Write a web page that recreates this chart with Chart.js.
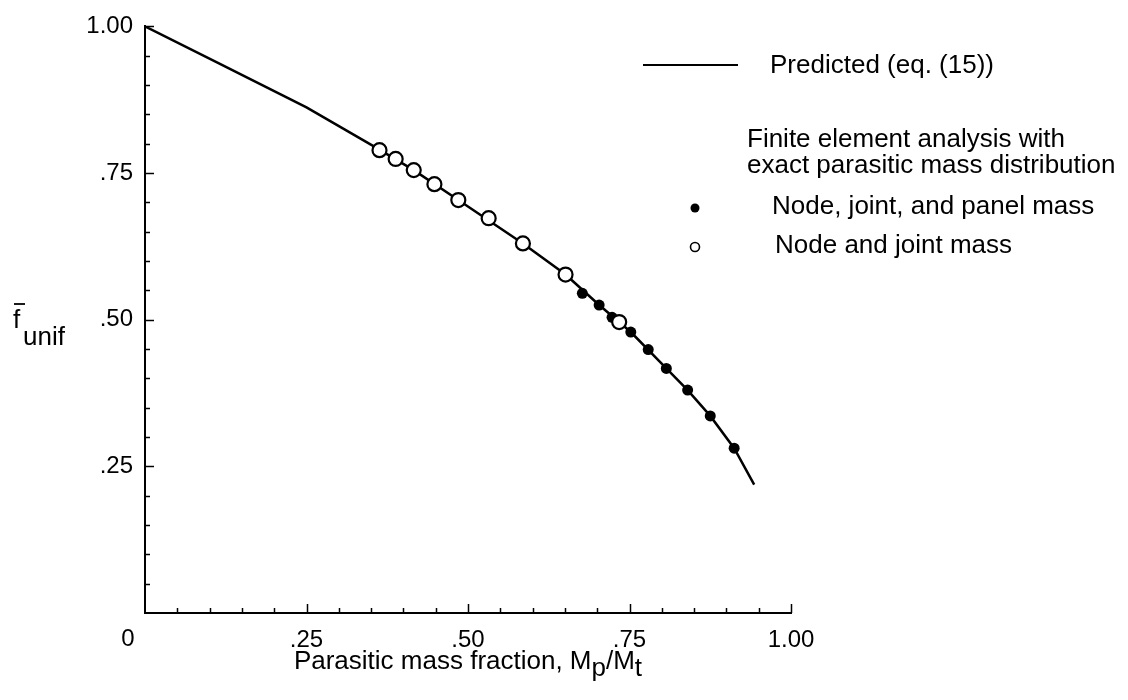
<!DOCTYPE html>
<html lang="en">
<head>
  <meta charset="UTF-8" />
  <title>Parasitic mass fraction</title>
  <script src="https://cdn.jsdelivr.net/npm/chart.js"></script>
  <style>
    body { margin: 0; background: #fff; }
    #wrap { width: 1128px; height: 700px; position: relative; }
  </style>
</head>
<body>
  <div id="wrap"><canvas id="chart"></canvas></div>

  <script>
    // predicted curve (eq. 15)
    const predictedX = [0, 0.116, 0.25, 0.355, 0.416, 0.485, 0.585, 0.651, 0.703, 0.752, 0.807, 0.840, 0.875, 0.912, 0.943];
    const predictedY = [1.0, 0.936, 0.862, 0.795, 0.755, 0.704, 0.630, 0.577, 0.525, 0.479, 0.417, 0.380, 0.336, 0.281, 0.219];

    // FE: node and joint mass (open)
    const openX = [0.363, 0.388, 0.416, 0.448, 0.485, 0.532, 0.585, 0.651, 0.734];
    const openY = [0.789, 0.774, 0.755, 0.731, 0.704, 0.673, 0.630, 0.577, 0.496];

    // FE: node, joint, and panel mass (filled)
    const filledX = [0.677, 0.703, 0.723, 0.752, 0.779, 0.807, 0.840, 0.875, 0.912];
    const filledY = [0.545, 0.525, 0.504, 0.479, 0.449, 0.417, 0.380, 0.336, 0.281];

    const xMajor = [0, 0.25, 0.5, 0.75, 1.0];
    const xTickLabels = ["0", ".25", ".50", ".75", "1.00"];
    const yMajor = [0.25, 0.5, 0.75, 1.0];
    const yTickLabels = [".25", ".50", ".75", "1.00"];

    const FONT = '"Liberation Sans", Arial, Helvetica, sans-serif';
    const toPts = (xs, ys) => xs.map((x, i) => ({ x, y: ys[i] }));
    const isMajor = (v, list) => list.some(m => Math.abs(m - v) < 1e-6);

    const innerTicks = {
      id: "innerTicks",
      afterDraw(chart) {
        const { ctx, chartArea, scales: { x, y } } = chart;
        ctx.save();
        ctx.strokeStyle = "#000";
        ctx.lineWidth = 1.5;
        x.ticks.forEach(t => {
          if (t.value <= 0) return;
          const px = Math.round(x.getPixelForValue(t.value)) + 0.5;
          const len = isMajor(t.value, xMajor) ? 9 : 5;
          ctx.beginPath();
          ctx.moveTo(px, chartArea.bottom);
          ctx.lineTo(px, chartArea.bottom - len);
          ctx.stroke();
        });
        y.ticks.forEach(t => {
          if (t.value <= 0) return;
          const py = Math.round(y.getPixelForValue(t.value)) + 0.5;
          const len = isMajor(t.value, yMajor) ? 9 : 5;
          ctx.beginPath();
          ctx.moveTo(chartArea.left, py);
          ctx.lineTo(chartArea.left + len, py);
          ctx.stroke();
        });
        ctx.restore();
      }
    };

    const annotations = {
      id: "annotations",
      afterDraw(chart) {
        const { ctx, chartArea, scales: { x } } = chart;
        ctx.save();
        ctx.fillStyle = "#000";
        ctx.strokeStyle = "#000";
        ctx.textBaseline = "alphabetic";

        // "0" corner label
        ctx.font = `24px ${FONT}`;
        ctx.textAlign = "center";
        ctx.fillText(xTickLabels[0], x.getPixelForValue(0) - 17, 646);

        // x title with subscripts
        ctx.font = `26px ${FONT}`;
        ctx.textAlign = "left";
        const parts = [["Parasitic mass fraction, M", 0], ["p", 7], ["/M", 0], ["t", 7]];
        const total = parts.reduce((s, p) => s + ctx.measureText(p[0]).width, 0);
        let cx = (chartArea.left + chartArea.right) / 2 - total / 2;
        parts.forEach(([txt, dy]) => {
          ctx.fillText(txt, cx, 669 + dy);
          cx += ctx.measureText(txt).width;
        });

        // y title: f-bar with subscript unif
        ctx.fillText("f", 13, 328);
        ctx.lineWidth = 1.8;
        ctx.beginPath();
        ctx.moveTo(14, 304);
        ctx.lineTo(25, 304);
        ctx.stroke();
        ctx.fillText("unif", 23, 345);

        // legend
        ctx.textBaseline = "middle";
        ctx.lineWidth = 1.8;
        ctx.beginPath();
        ctx.moveTo(643, 65);
        ctx.lineTo(738, 65);
        ctx.stroke();
        ctx.fillText("Predicted (eq. (15))", 770, 66);
        ctx.fillText("Finite element analysis with", 747, 140);
        ctx.fillText("exact parasitic mass distribution", 747, 166);
        ctx.beginPath();
        ctx.arc(695, 208, 4.5, 0, Math.PI * 2);
        ctx.fill();
        ctx.fillText("Node, joint, and panel mass", 772, 207);
        ctx.lineWidth = 1.6;
        ctx.beginPath();
        ctx.arc(695, 247, 4.5, 0, Math.PI * 2);
        ctx.stroke();
        ctx.fillText("Node and joint mass", 775, 246);
        ctx.restore();
      }
    };

    new Chart(document.getElementById("chart"), {
      type: "scatter",
      data: {
        datasets: [
          {
            label: "Node and joint mass",
            data: toPts(openX, openY),
            pointRadius: 7,
            pointBackgroundColor: "#fff",
            pointBorderColor: "#000",
            pointBorderWidth: 2.2,
            order: 0
          },
          {
            label: "Node, joint, and panel mass",
            data: toPts(filledX, filledY),
            pointRadius: 5.5,
            pointBackgroundColor: "#000",
            pointBorderColor: "#000",
            pointBorderWidth: 0,
            order: 1
          },
          {
            label: "Predicted (eq. (15))",
            data: toPts(predictedX, predictedY),
            showLine: true,
            borderColor: "#000",
            borderWidth: 2.5,
            pointRadius: 0,
            tension: 0,
            order: 2
          }
        ]
      },
      options: {
        responsive: true,
        maintainAspectRatio: false,
        animation: false,
        layout: { padding: { left: 0, top: 22, right: 337, bottom: 0 } },
        plugins: {
          legend: { display: false },
          tooltip: { enabled: false }
        },
        scales: {
          x: {
            type: "linear",
            min: 0,
            max: 1,
            grid: { display: false, drawTicks: false },
            border: { display: true, color: "#000", width: 2 },
            ticks: {
              stepSize: 0.05,
              autoSkip: false,
              maxRotation: 0,
              padding: 13,
              color: "#000",
              font: { family: FONT, size: 24 },
              callback: v => {
                const i = xMajor.findIndex(m => Math.abs(m - v) < 1e-6);
                return i > 0 ? xTickLabels[i] : "";
              }
            },
            afterFit: s => { s.height = 87; }
          },
          y: {
            type: "linear",
            min: 0,
            max: 1,
            grid: { display: false, drawTicks: false },
            border: { display: true, color: "#000", width: 2 },
            ticks: {
              stepSize: 0.05,
              autoSkip: false,
              padding: 12,
              color: "#000",
              font: { family: FONT, size: 24 },
              callback: v => {
                const i = yMajor.findIndex(m => Math.abs(m - v) < 1e-6);
                return i >= 0 ? yTickLabels[i] : "";
              }
            },
            afterFit: s => { s.width = 145; }
          }
        }
      },
      plugins: [innerTicks, annotations]
    });
  </script>
</body>
</html>
